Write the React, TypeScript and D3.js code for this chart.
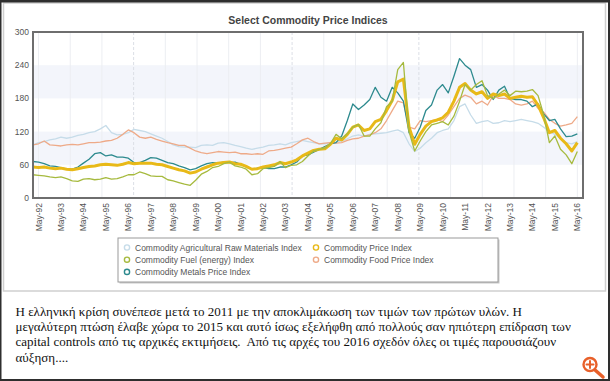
import React from "react";
import * as d3 from "d3";

const W = 610;
const H = 381;

// Quarterly readings: Feb, May, Aug, Nov of each year from Feb-92 to May-16
const agriRaw = [
  96, 100, 102, 105, 107, 110, 108, 110, 113, 115, 118, 120, 125, 131, 118, 114,
  115, 118, 124, 122, 120, 116, 112, 108, 102, 96, 93, 92, 92, 91, 95, 96,
  95, 99, 100, 98, 95, 93, 90, 88, 90, 92, 95, 96, 98, 96, 100, 102,
  104, 102, 100, 98, 98, 100, 101, 103, 107, 112, 114, 112, 115, 116, 117, 118,
  121, 123, 118, 98, 84, 90, 100, 108, 118, 122, 125, 140, 165, 170, 150, 135,
  138, 140, 135, 136, 140, 138, 140, 142, 140, 138, 135, 128, 120, 115, 108, 100,
  98, 102,
];
const priceIndex = [
  56, 55, 56, 54, 53, 54, 52, 51, 53, 55, 57, 58, 60, 61, 60, 59,
  61, 64, 62, 63, 63, 63, 61, 60, 57, 54, 51, 49, 45, 47, 52, 56,
  60, 63, 64, 65, 62, 61, 57, 52, 53, 56, 58, 60, 64, 62, 65, 69,
  76, 81, 86, 88, 89, 97, 108, 105, 115, 128, 132, 122, 125, 138, 142, 158,
  176, 210, 215, 128, 97, 115, 130, 138, 141, 145, 155, 175, 200, 207, 195, 188,
  192, 180, 188, 185, 188, 180, 182, 184, 182, 183, 168, 145, 118, 122, 108, 98,
  85, 100,
];
const fuel = [
  42, 41, 40, 38, 37, 38, 35, 31, 30, 34, 35, 33, 34, 37, 34, 35,
  38, 42, 42, 47, 44, 40, 39, 39, 33, 31, 28, 25, 23, 32, 43, 48,
  55, 57, 62, 65, 58, 56, 52, 42, 44, 53, 55, 57, 66, 55, 59, 60,
  66, 76, 85, 88, 90, 98, 115, 107, 116, 128, 133, 112, 112, 125, 136, 165,
  175, 232, 245, 120, 85, 103, 120, 132, 135, 138, 132, 148, 175, 205, 195, 205,
  212, 185, 180, 188, 195, 185, 193, 192, 193, 196, 185, 150, 100, 112, 88, 78,
  62, 84,
];
const food = [
  96, 98, 103, 96, 95, 94, 96, 97, 96, 98, 100, 100, 101, 103, 104, 108,
  115, 123, 118, 110, 108, 110, 106, 103, 100, 98, 95, 95, 90, 85, 82, 80,
  82, 84, 83, 82, 83, 80, 80, 79, 80, 79, 85, 86, 88, 90, 92, 98,
  105, 108, 102, 98, 99, 100, 99, 100, 104, 107, 108, 112, 114, 118, 125, 140,
  158, 175, 172, 128, 125, 140, 138, 140, 142, 138, 150, 165, 180, 186, 182, 170,
  175, 168, 185, 180, 180, 178, 170, 168, 170, 175, 162, 155, 142, 135, 130, 132,
  135, 147,
];
const metals = [
  66, 65, 62, 58, 57, 55, 52, 52, 56, 63, 70, 80, 82, 76, 78, 74,
  74, 72, 64, 64, 68, 73, 72, 68, 64, 62, 58, 55, 51, 53, 58, 62,
  64, 63, 65, 64, 65, 61, 56, 52, 54, 55, 53, 53, 56, 56, 60, 65,
  76, 78, 83, 88, 93, 98, 100, 112, 140, 170, 160, 168, 178, 200, 182, 175,
  200, 190, 175, 118, 108, 128, 158, 168, 195, 205, 190, 220, 252, 240, 232, 200,
  205, 195, 178, 195, 202, 180, 178, 178, 175, 165, 170, 152, 140, 142, 125, 111,
  112, 116,
];

const seriesNames = [
  "Commodity Agricultural Raw Materials Index",
  "Commodity Price Index",
  "Commodity Fuel (energy) Index",
  "Commodity Food Price Index",
  "Commodity Metals Price Index",
];
const seriesValues = [agriRaw, priceIndex, fuel, food, metals];
const seriesColors = ["#c6dce9", "#e8b917", "#a6ba3e", "#eeaa88", "#2d8a8e"];
const seriesWidths = [1.3, 3, 1.3, 1.3, 1.3];
const drawOrder = [0, 3, 4, 1, 2];

const yTicks = [0, 60, 120, 180, 240, 300];
const bands = [
  [60, 120],
  [180, 240],
];
const tickYears = d3.range(1992, 2017);

const title = "Select Commodity Price Indices";
const paragraph = [
  "Η ελληνική κρίση συνέπεσε μετά το 2011 με την αποκλιμάκωση των τιμών των πρώτων υλών. Η",
  "μεγαλύτερη πτώση έλαβε χώρα το 2015 και αυτό ίσως εξελήφθη από πολλούς σαν ηπιότερη επίδραση των",
  "capital controls από τις αρχικές εκτιμήσεις.  Από τις αρχές του 2016 σχεδόν όλες οι τιμές παρουσιάζουν",
  "αύξηση....",
];

export default function App() {
  const left = 33,
    right = 583,
    top = 32,
    bottom = 198;
  const x = d3
    .scaleTime()
    .domain([new Date(1992, 1, 1), new Date(2016, 7, 1)])
    .range([left, right]);
  const y = d3.scaleLinear().domain([0, 300]).range([bottom, top]);
  const dates = priceIndex.map((_, i) => new Date(1992, 1 + 3 * i, 1));
  const tickDates = tickYears.map((yr) => new Date(yr, 4, 1));
  const fmt = d3.timeFormat("%b-%y");
  const line = (vals: number[]) =>
    d3
      .line<number>()
      .x((_, i) => x(dates[i]))
      .y((v) => y(v))(vals) || "";

  const g0 = x(tickDates[0]);
  const g1 = x(tickDates[tickDates.length - 1]);
  const grid = d3.range(18).map((k) => g0 + (k * (g1 - g0)) / 17);
  const dashedGrid = [3, 8, 12];

  const font = "'Liberation Sans', Arial, sans-serif";

  const legendX = 118,
    legendY = 238,
    legendW = 380,
    legendH = 44;
  const legendPos = seriesNames.map((_, i) => ({
    col: i % 2,
    row: Math.floor(i / 2),
  }));

  return (
    <div style={{ position: "absolute", left: 0, top: 0 }}>
      <svg width={W} height={H} style={{ display: "block", background: "#fff" }}>
        <defs>
          <clipPath id="plotClip">
            <rect x={left} y={top} width={right - left} height={bottom - top} />
          </clipPath>
        </defs>
        {/* panel */}
        <rect x={3.5} y={3} width={602} height={288} fill="#fff" stroke="#cfcfcf" strokeWidth={1.5} />
        {/* title */}
        <text
          x={(left + right) / 2}
          y={24}
          textAnchor="middle"
          fontFamily={font}
          fontWeight="bold"
          fontSize={10.5}
          fill="#444"
        >
          {title}
        </text>
        {/* bands */}
        {bands.map(([a, b], i) => (
          <rect key={i} x={left} y={y(b)} width={right - left} height={y(a) - y(b)} fill="#f3f5fb" />
        ))}
        {/* vertical grid */}
        {grid.map((gx, k) => (
          <line
            key={k}
            x1={gx}
            x2={gx}
            y1={top}
            y2={bottom}
            stroke={dashedGrid.includes(k) ? "#dcdfe6" : "#eceef2"}
            strokeWidth={1}
            strokeDasharray={dashedGrid.includes(k) ? "3,2" : undefined}
          />
        ))}
        {/* series */}
        <g clipPath="url(#plotClip)">
          {drawOrder.map((si) => (
            <path
              key={si}
              d={line(seriesValues[si])}
              fill="none"
              stroke={seriesColors[si]}
              strokeWidth={seriesWidths[si]}
              strokeLinejoin="round"
            />
          ))}
        </g>
        {/* frame */}
        <rect x={left} y={top} width={right - left} height={bottom - top} fill="none" stroke="#6e6e6e" strokeWidth={2} />
        {/* y labels */}
        {yTicks.map((t) => (
          <text key={t} x={29} y={y(t) + 3} textAnchor="end" fontFamily={font} fontSize={8.5} fill="#555">
            {t}
          </text>
        ))}
        {/* x labels */}
        {tickDates.map((d, i) => (
          <text
            key={i}
            transform={`translate(${x(d) + 3},${bottom + 5}) rotate(-90)`}
            textAnchor="end"
            fontFamily={font}
            fontSize={8.5}
            fill="#555"
          >
            {fmt(d)}
          </text>
        ))}
        {/* legend */}
        <rect x={legendX + 1.5} y={legendY + 1.5} width={legendW} height={legendH} fill="#c8c8c8" />
        <rect x={legendX} y={legendY} width={legendW} height={legendH} fill="#fff" stroke="#9a9a9a" strokeWidth={1} />
        {seriesNames.map((name, i) => {
          const lx = legendX + 9 + legendPos[i].col * 189;
          const ly = legendY + 9.5 + legendPos[i].row * 12.2;
          return (
            <g key={i}>
              <circle cx={lx} cy={ly} r={2.6} fill="#fff" stroke={seriesColors[i]} strokeWidth={1.4} />
              <text x={lx + 8} y={ly + 3} fontFamily={font} fontSize={8.5} fill="#555">
                {name}
              </text>
            </g>
          );
        })}
        {/* paragraph */}
        {paragraph.map((ln, i) => (
          <text
            key={i}
            x={15.5}
            y={316 + i * 15.2}
            fontFamily="'Liberation Serif', 'Times New Roman', serif"
            fontSize={13}
            fill="#111"
            style={{ whiteSpace: "pre" }}
          >
            {ln}
          </text>
        ))}
        {/* zoom icon */}
        <g stroke="#e8602a" fill="none" strokeLinecap="round">
          <line x1={595} y1={370} x2={603} y2={377} strokeWidth={3.5} />
          <circle cx={590} cy={364.5} r={6.5} strokeWidth={2.4} fill="#fff" />
          <line x1={586.5} y1={364.5} x2={593.5} y2={364.5} strokeWidth={2} />
          <line x1={590} y1={361} x2={590} y2={368} strokeWidth={2} />
        </g>
        {/* outer border */}
        <rect x={0} y={0} width={W} height={2.5} fill="#2e2e2e" />
        <rect x={0} y={0} width={1.5} height={H} fill="#2e2e2e" />
        <rect x={W - 2} y={0} width={2} height={H} fill="#2e2e2e" />
        <rect x={0} y={H - 2} width={W} height={2} fill="#2e2e2e" />
      </svg>
    </div>
  );
}
